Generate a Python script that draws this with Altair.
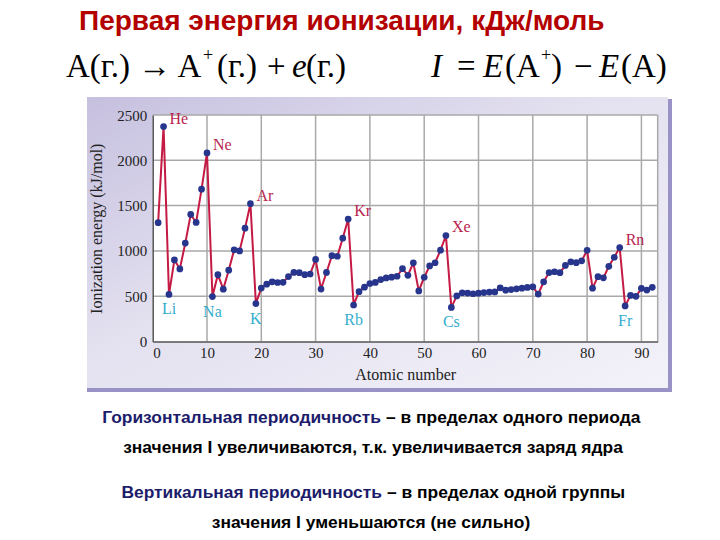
import altair as alt
import pandas as pd

# ---------------- data ----------------
atomic_number = list(range(1, 93))
ionization_energy = [
    1312, 2372, 520, 900, 801, 1086, 1402, 1314, 1681, 2081,
    496, 738, 578, 787, 1012, 1000, 1251, 1521, 419, 590,
    633, 659, 651, 653, 717, 762, 760, 737, 745, 906,
    579, 762, 947, 941, 1140, 1351, 403, 550, 600, 640,
    652, 684, 702, 710, 720, 804, 731, 868, 558, 709,
    834, 869, 1008, 1170, 376, 503, 538, 534, 527, 533,
    540, 545, 547, 593, 566, 573, 581, 589, 597, 603,
    524, 659, 761, 770, 760, 840, 880, 870, 890, 1007,
    589, 716, 703, 830, 930, 1037, 393, 509, 499, 587,
    568, 598,
]
noble_z = [2, 10, 18, 36, 54, 86]
noble_sym = ["He", "Ne", "Ar", "Kr", "Xe", "Rn"]
alkali_z = [3, 11, 19, 37, 55, 87]
alkali_sym = ["Li", "Na", "K", "Rb", "Cs", "Fr"]
x_ticks = [10, 20, 30, 40, 50, 60, 70, 80, 90]
y_ticks = [500, 1000, 1500, 2000, 2500]

df = pd.DataFrame({"Z": atomic_number, "IE": ionization_energy})
ie_map = dict(zip(atomic_number, ionization_energy))
noble_df = pd.DataFrame({"Z": noble_z, "sym": noble_sym,
                         "IE": [ie_map[z] for z in noble_z]})
alkali_df = pd.DataFrame({"Z": alkali_z, "sym": alkali_sym,
                          "IE": [ie_map[z] for z in alkali_z]})
xt_df = pd.DataFrame({"v": x_ticks})
yt_df = pd.DataFrame({"v": y_ticks})
one = pd.DataFrame({"a": [0]})

# ---------------- layout ----------------
W, H = 505, 226.5
OX, OY = 152.7, 115.0          # plot origin in page pixels


def px(x):
    return x - OX


def py(y):
    return y - OY


SERIF = "Liberation Serif"
SANS = "Liberation Sans"

xs = alt.Scale(domain=[0, 93], nice=False, zero=False)
ys = alt.Scale(domain=[0, 2500], nice=False)

# background box with gradient
grad = alt.LinearGradient(
    gradient="linear",
    stops=[alt.GradientStop(color="#c6c0df", offset=0),
           alt.GradientStop(color="#e4e1f0", offset=0.45),
           alt.GradientStop(color="#f3f2f9", offset=1)],
    x1=0, x2=1, y1=0, y2=1,
)
box = alt.Chart(one).mark_rect(color=grad).encode(
    x=alt.value(px(87)), x2=alt.value(px(668)),
    y=alt.value(py(97)), y2=alt.value(py(388)))
box_right = alt.Chart(one).mark_rect(color="#9892c6").encode(
    x=alt.value(px(668)), x2=alt.value(px(672)),
    y=alt.value(py(99)), y2=alt.value(py(392)))
box_bottom = alt.Chart(one).mark_rect(color="#9892c6").encode(
    x=alt.value(px(87)), x2=alt.value(px(672)),
    y=alt.value(py(388)), y2=alt.value(py(392)))
plot_bg = alt.Chart(one).mark_rect(color="white").encode(
    x=alt.value(0), x2=alt.value(W), y=alt.value(0), y2=alt.value(H))

GRID = "#a9a9a9"
vgrid = alt.Chart(xt_df).mark_rule(color=GRID, strokeWidth=1.5).encode(
    x=alt.X("v:Q", scale=xs))
hgrid = alt.Chart(yt_df).mark_rule(color=GRID, strokeWidth=1.5).encode(
    y=alt.Y("v:Q", scale=ys))
right_edge = alt.Chart(one).mark_rule(color=GRID, strokeWidth=1.5).encode(
    x=alt.value(W), y=alt.value(0), y2=alt.value(H))

x_axis = alt.Axis(values=[0, 10, 20, 30, 40, 50, 60, 70, 80, 90], grid=False,
                  format="d", ticks=False, labelFont=SERIF, labelFontSize=15,
                  labelColor="#222222", labelPadding=4, domainColor="#555555",
                  domainWidth=1.5, title="Atomic number", titleFont=SERIF,
                  titleFontSize=16, titleFontWeight="normal",
                  titleColor="#222222", titlePadding=6, zindex=1)
y_axis = alt.Axis(values=[0, 500, 1000, 1500, 2000, 2500], grid=False,
                  format="d", ticks=False, labelFont=SERIF, labelFontSize=15,
                  labelColor="#222222", labelPadding=6, domainColor="#555555",
                  domainWidth=1.5, title="Ionization energy (kJ/mol)",
                  titleFont=SERIF, titleFontSize=16, titleFontWeight="normal",
                  titleColor="#222222", titlePadding=12, zindex=1)

line = alt.Chart(df).mark_line(color="#c41a44", strokeWidth=2).encode(
    x=alt.X("Z:Q", scale=xs, axis=x_axis),
    y=alt.Y("IE:Q", scale=ys, axis=y_axis))
points = alt.Chart(df).mark_circle(color="#27358c", size=45, opacity=1).encode(
    x=alt.X("Z:Q", scale=xs), y=alt.Y("IE:Q", scale=ys))

noble_lbl = alt.Chart(noble_df).mark_text(
    font=SERIF, fontSize=16, color="#b8264f", align="left", dx=6, dy=-8
).encode(x=alt.X("Z:Q", scale=xs), y=alt.Y("IE:Q", scale=ys), text="sym:N")
alkali_lbl = alt.Chart(alkali_df).mark_text(
    font=SERIF, fontSize=16, color="#35aece", align="center", dy=15
).encode(x=alt.X("Z:Q", scale=xs), y=alt.Y("IE:Q", scale=ys), text="sym:N")


# ---------------- decorative text ----------------
def txt(s, x, y, size, font=SANS, weight="normal", style="normal",
        color="black", align="left", baseline="alphabetic"):
    return alt.Chart(one).mark_text(
        text=s, font=font, fontSize=size, fontWeight=weight, fontStyle=style,
        color=color, align=align, baseline=baseline
    ).encode(x=alt.value(px(x)), y=alt.value(py(y)))


title = txt("Первая энергия ионизации, кДж/моль", 79, 30, 28,
            weight="bold", color="#b30000")

FS = 33
fy = 77
formula = [
    txt("A(г.) → A", 66, fy, FS, font=SERIF),
    txt("+", 203, fy - 16, 18, font=SERIF),
    txt("(г.)", 217, fy, FS, font=SERIF),
    txt("+", 267, fy, FS, font=SERIF),
    txt("e", 292, fy, FS, font=SERIF, style="italic"),
    txt("(г.)", 306, fy, FS, font=SERIF),
    txt("I", 431, fy, FS, font=SERIF, style="italic"),
    txt("=", 457, fy, FS, font=SERIF),
    txt("E", 483, fy, FS, font=SERIF, style="italic"),
    txt("(A", 505, fy, FS, font=SERIF),
    txt("+", 541, fy - 16, 18, font=SERIF),
    txt(")", 551, fy, FS, font=SERIF),
    txt("−", 574, fy, FS, font=SERIF),
    txt("E", 599, fy, FS, font=SERIF, style="italic"),
    txt("(A)", 621, fy, FS, font=SERIF),
]

BS = 17.4
NAVY = "#1c1c6b"
bottom = [
    txt("Горизонтальная периодичность", 381, 418, BS, weight="bold",
        color=NAVY, align="right", baseline="middle"),
    txt("– в пределах одного периода", 386, 418, BS, weight="bold",
        baseline="middle"),
    txt("значения I увеличиваются, т.к. увеличивается заряд ядра", 373, 448,
        BS, weight="bold", align="center", baseline="middle"),
    txt("Вертикальная периодичность", 382, 493, BS, weight="bold",
        color=NAVY, align="right", baseline="middle"),
    txt("– в пределах одной группы", 387, 493, BS, weight="bold",
        baseline="middle"),
    txt("значения I уменьшаются (не сильно)", 371, 523, BS, weight="bold",
        align="center", baseline="middle"),
]

chart = alt.layer(
    box, box_right, box_bottom, plot_bg, vgrid, hgrid, right_edge,
    line, points, noble_lbl, alkali_lbl, title, *formula, *bottom
).properties(
    width=W, height=H,
    autosize=alt.AutoSizeParams(type="none"),
    padding={"left": OX, "top": OY, "right": 720 - OX - W,
             "bottom": 540 - OY - H},
    background="white",
).configure_view(stroke=None)

chart.save("out.html", embed_options={"renderer": "svg", "actions": False})
